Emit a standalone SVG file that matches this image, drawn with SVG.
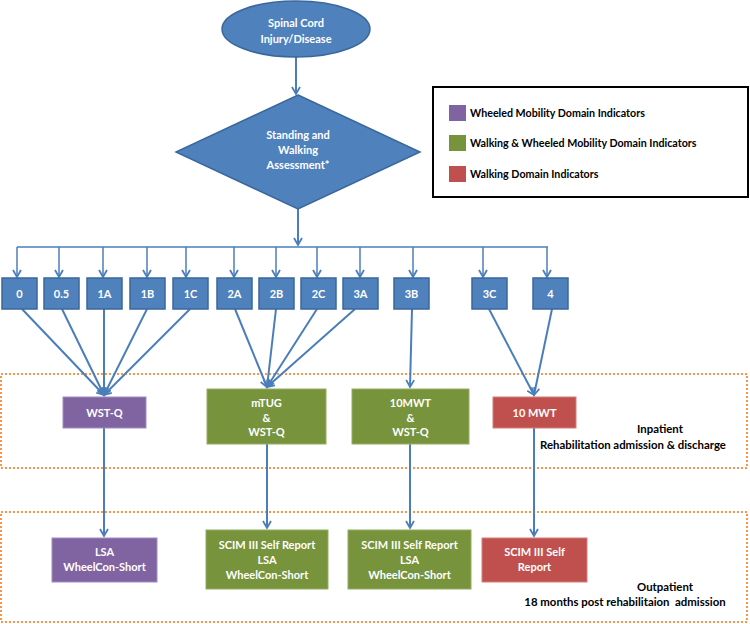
<svg xmlns="http://www.w3.org/2000/svg" width="750" height="624" viewBox="0 0 750 624">
<defs>
<marker id="ah" markerWidth="10" markerHeight="10" refX="8" refY="5" orient="auto" markerUnits="userSpaceOnUse">
<path d="M1,1 L8,5 L1,9" fill="none" stroke="#4A7EBB" stroke-width="1.8"/>
</marker>
<style>
.blue{fill:#4F81BD;stroke:#3A679C;stroke-width:1.5}
.purple{fill:#8064A2;stroke:#A08CC0;stroke-width:1}
.green{fill:#77933C;stroke:#95AE62;stroke-width:1}
.red{fill:#C0504D;stroke:#D27F7D;stroke-width:1}
.wt{font-family:Lato,"Open Sans","Liberation Sans",sans-serif;font-weight:bold;fill:#fff;font-size:11px;text-anchor:middle}
.bt{font-family:Lato,"Open Sans","Liberation Sans",sans-serif;font-weight:bold;fill:#000;font-size:11.4px;white-space:pre}
.lg{font-size:10.7px}
.ln{stroke:#4A7EBB;stroke-width:2;fill:none}
.ls{stroke:#4A7EBB;stroke-width:1.5;fill:none}
.dot{fill:none;stroke:#F79646;stroke-width:2;stroke-dasharray:2 2}
</style>
</defs>
<rect width="750" height="624" fill="#fff"/>

<g id="regions">
<rect class="dot" x="1" y="374" width="746" height="94"/>
<rect class="dot" x="1" y="512" width="746" height="110"/>
<text class="bt" x="660" y="433" text-anchor="middle">Inpatient</text>
<text class="bt" x="633" y="449" text-anchor="middle">Rehabilitation admission &amp; discharge</text>
<text class="bt" x="665" y="591" text-anchor="middle">Outpatient</text>
<text class="bt" x="625" y="606" text-anchor="middle">18 months post rehabilitaion  admission</text>
</g>

<g id="legend">
<rect x="433" y="87" width="315" height="110" fill="#fff" stroke="#000" stroke-width="2"/>
<rect x="449" y="105" width="17" height="16" fill="#8064A2"/>
<rect x="449" y="135" width="17" height="16" fill="#77933C"/>
<rect x="449" y="166" width="17" height="16" fill="#C0504D"/>
<text class="bt lg" x="470" y="117">Wheeled Mobility Domain Indicators</text>
<text class="bt lg" x="470" y="147">Walking &amp; Wheeled Mobility Domain Indicators</text>
<text class="bt lg" x="470" y="178">Walking Domain Indicators</text>
</g>

<g id="connectors">
<line class="ln" x1="296" y1="57" x2="296" y2="94" marker-end="url(#ah)"/>
<line class="ln" x1="298" y1="209" x2="298" y2="245" marker-end="url(#ah)"/>
<line class="ls" x1="17" y1="247" x2="548" y2="247"/>
<line class="ls" x1="17" y1="247" x2="17" y2="277" marker-end="url(#ah)"/>
<line class="ls" x1="59" y1="247" x2="59" y2="277" marker-end="url(#ah)"/>
<line class="ls" x1="103" y1="247" x2="103" y2="277" marker-end="url(#ah)"/>
<line class="ls" x1="147" y1="247" x2="147" y2="277" marker-end="url(#ah)"/>
<line class="ls" x1="186" y1="247" x2="186" y2="277" marker-end="url(#ah)"/>
<line class="ls" x1="234" y1="247" x2="234" y2="277" marker-end="url(#ah)"/>
<line class="ls" x1="276" y1="247" x2="276" y2="277" marker-end="url(#ah)"/>
<line class="ls" x1="317" y1="247" x2="317" y2="277" marker-end="url(#ah)"/>
<line class="ls" x1="360" y1="247" x2="360" y2="277" marker-end="url(#ah)"/>
<line class="ls" x1="413" y1="247" x2="413" y2="277" marker-end="url(#ah)"/>
<line class="ls" x1="483" y1="247" x2="483" y2="277" marker-end="url(#ah)"/>
<line class="ls" x1="547" y1="247" x2="547" y2="277" marker-end="url(#ah)"/>

<line class="ln" x1="22" y1="309" x2="104" y2="395" marker-end="url(#ah)"/>
<line class="ln" x1="62" y1="309" x2="104" y2="395" marker-end="url(#ah)"/>
<line class="ln" x1="104" y1="309" x2="104" y2="395" marker-end="url(#ah)"/>
<line class="ln" x1="147" y1="309" x2="104" y2="395" marker-end="url(#ah)"/>
<line class="ln" x1="190" y1="309" x2="104" y2="395" marker-end="url(#ah)"/>

<line class="ln" x1="235" y1="309" x2="267" y2="387" marker-end="url(#ah)"/>
<line class="ln" x1="276" y1="309" x2="267" y2="387" marker-end="url(#ah)"/>
<line class="ln" x1="317" y1="309" x2="267" y2="387" marker-end="url(#ah)"/>
<line class="ln" x1="355" y1="309" x2="267" y2="387" marker-end="url(#ah)"/>

<line class="ln" x1="412" y1="309" x2="410" y2="387" marker-end="url(#ah)"/>

<line class="ln" x1="489" y1="309" x2="534" y2="395" marker-end="url(#ah)"/>
<line class="ln" x1="552" y1="309" x2="534" y2="395" marker-end="url(#ah)"/>

<line class="ln" x1="104" y1="428" x2="104" y2="536" marker-end="url(#ah)"/>
<line class="ln" x1="267" y1="444" x2="267" y2="528" marker-end="url(#ah)"/>
<line class="ln" x1="410" y1="444" x2="410" y2="528" marker-end="url(#ah)"/>
<line class="ln" x1="534" y1="428" x2="534" y2="536" marker-end="url(#ah)"/>
</g>

<g id="start">
<ellipse class="blue" cx="296" cy="29" rx="74" ry="28"/>
<text class="wt" x="296" y="27" font-size="13">Spinal Cord</text>
<text class="wt" x="296" y="43" font-size="13">Injury/Disease</text>
</g>

<g id="assessment">
<polygon class="blue" points="298,95 420,152 298,209 176,152"/>
<text class="wt" x="298" y="139">Standing and</text>
<text class="wt" x="298" y="154">Walking</text>
<text class="wt" x="298" y="169">Assessment*</text>
</g>

<g id="level-0"><rect class="blue" x="2" y="278" width="35" height="31"/><text class="wt" x="19.5" y="297.5" font-size="10.5">0</text></g>
<g id="level-0.5"><rect class="blue" x="44" y="278" width="35" height="31"/><text class="wt" x="61.5" y="297.5" font-size="10.5">0.5</text></g>
<g id="level-1A"><rect class="blue" x="87" y="278" width="35" height="31"/><text class="wt" x="104.5" y="297.5" font-size="10.5">1A</text></g>
<g id="level-1B"><rect class="blue" x="130" y="278" width="35" height="31"/><text class="wt" x="147.5" y="297.5" font-size="10.5">1B</text></g>
<g id="level-1C"><rect class="blue" x="173" y="278" width="35" height="31"/><text class="wt" x="190.5" y="297.5" font-size="10.5">1C</text></g>
<g id="level-2A"><rect class="blue" x="217" y="278" width="35" height="31"/><text class="wt" x="234.5" y="297.5" font-size="10.5">2A</text></g>
<g id="level-2B"><rect class="blue" x="259" y="278" width="35" height="31"/><text class="wt" x="276.5" y="297.5" font-size="10.5">2B</text></g>
<g id="level-2C"><rect class="blue" x="301" y="278" width="35" height="31"/><text class="wt" x="318.5" y="297.5" font-size="10.5">2C</text></g>
<g id="level-3A"><rect class="blue" x="343" y="278" width="35" height="31"/><text class="wt" x="360.5" y="297.5" font-size="10.5">3A</text></g>
<g id="level-3B"><rect class="blue" x="394" y="278" width="35" height="31"/><text class="wt" x="411.5" y="297.5" font-size="10.5">3B</text></g>
<g id="level-3C"><rect class="blue" x="472" y="278" width="35" height="31"/><text class="wt" x="489.5" y="297.5" font-size="10.5">3C</text></g>
<g id="level-4"><rect class="blue" x="533" y="278" width="35" height="31"/><text class="wt" x="550.5" y="297.5" font-size="10.5">4</text></g>

<g id="inpt-wstq"><rect class="purple" x="63" y="397" width="83" height="31"/><text class="wt" x="104.5" y="416.5">WST-Q</text></g>
<g id="inpt-mtug"><rect class="green" x="207" y="389" width="119" height="55"/>
<text class="wt" x="266.5" y="407">mTUG</text><text class="wt" x="266.5" y="421.5">&amp;</text><text class="wt" x="266.5" y="436">WST-Q</text></g>
<g id="inpt-10mwt-wstq"><rect class="green" x="352" y="389" width="117" height="55"/>
<text class="wt" x="410.5" y="407">10MWT</text><text class="wt" x="410.5" y="421.5">&amp;</text><text class="wt" x="410.5" y="436">WST-Q</text></g>
<g id="inpt-10mwt"><rect class="red" x="493" y="397" width="83" height="31"/><text class="wt" x="534.5" y="416.5">10 MWT</text></g>

<g id="outpt-lsa"><rect class="purple" x="52" y="538" width="105" height="44"/>
<text class="wt" x="104.5" y="556">LSA</text><text class="wt" x="104.5" y="571">WheelCon-Short</text></g>
<g id="outpt-scim1"><rect class="green" x="206" y="530" width="122" height="59"/>
<text class="wt" x="267" y="549">SCIM III Self Report</text><text class="wt" x="267" y="564">LSA</text><text class="wt" x="267" y="578.5">WheelCon-Short</text></g>
<g id="outpt-scim2"><rect class="green" x="348" y="530" width="123" height="59"/>
<text class="wt" x="409.5" y="549">SCIM III Self Report</text><text class="wt" x="409.5" y="564">LSA</text><text class="wt" x="409.5" y="578.5">WheelCon-Short</text></g>
<g id="outpt-scim3"><rect class="red" x="482" y="538" width="105" height="44"/>
<text class="wt" x="534.5" y="556">SCIM III Self</text><text class="wt" x="534.5" y="571">Report</text></g>
</svg>
